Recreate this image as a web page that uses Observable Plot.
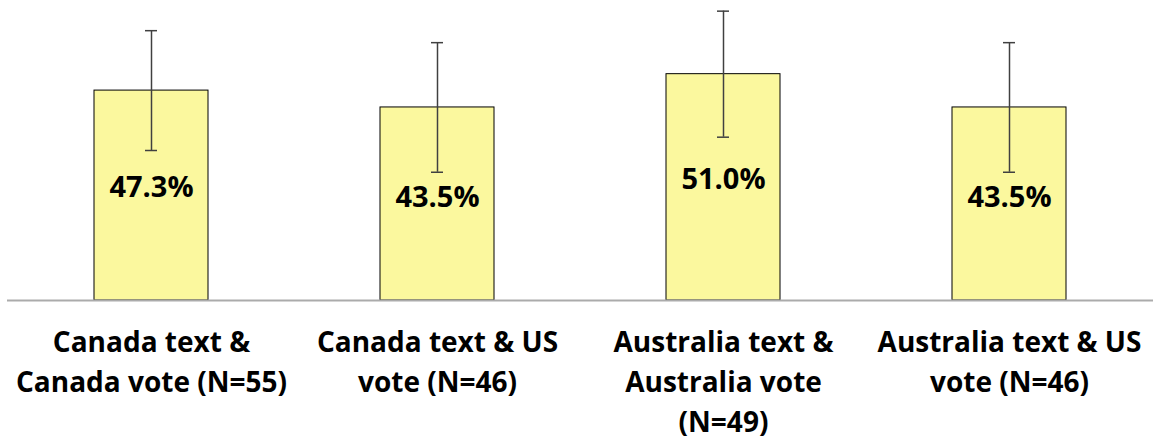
<!DOCTYPE html>
<html>
<head>
<meta charset="utf-8">
<script src="https://cdn.jsdelivr.net/npm/d3@7"></script>
<script src="https://cdn.jsdelivr.net/npm/@observablehq/plot@0.6"></script>
<style>
  html, body { margin: 0; padding: 0; background: #fff; }
  #chart svg { display: block; }
</style>
</head>
<body>
<div id="chart"></div>
<script>
const categories = [
  "Canada text &\nCanada vote (N=55)",
  "Canada text & US\nvote (N=46)",
  "Australia text &\nAustralia vote\n(N=49)",
  "Australia text & US\nvote (N=46)"
];
const values = [47.3, 43.5, 51.0, 43.5];
const errors = [13.5, 14.6, 14.2, 14.6];

const data = categories.map((c, i) => ({
  cat: c,
  value: values[i],
  lo: values[i] - errors[i],
  hi: values[i] + errors[i],
  labelY: values[i] * 0.535,
  label: values[i].toFixed(1) + "%"
}));

const font = "'Open Sans', 'DejaVu Sans', sans-serif";

const chart = Plot.plot({
  width: 1153,
  height: 446,
  marginTop: 0,
  marginBottom: 146,
  marginLeft: 7,
  marginRight: 0,
  style: { fontFamily: font, background: "#fff" },
  x: { domain: categories, paddingInner: 0.6, paddingOuter: 0.3, label: null },
  y: { domain: [0, 67.6], axis: null },
  marks: [
    Plot.barY(data, { x: "cat", y: "value", fill: "#fbf89e", stroke: "#000", strokeWidth: 1 }),
    Plot.ruleX(data, { x: "cat", y1: "lo", y2: "hi", stroke: "#404040", strokeWidth: 1.5 }),
    Plot.tickY(data, { x: "cat", y: "lo", stroke: "#404040", strokeWidth: 1.5, insetLeft: 51, insetRight: 51 }),
    Plot.tickY(data, { x: "cat", y: "hi", stroke: "#404040", strokeWidth: 1.5, insetLeft: 51, insetRight: 51 }),
    Plot.text(data, { x: "cat", y: "labelY", text: "label", fontSize: 29, fontWeight: "bold", fill: "#000" }),
    Plot.ruleY([0], { stroke: "#ababab", strokeWidth: 2 }),
    Plot.axisX({
      tickSize: 0,
      tickPadding: 23,
      fontSize: 28,
      fontWeight: "bold",
      lineHeight: 1.43,
      lineAnchor: "top",
      fill: "#000",
      label: null
    })
  ]
});
document.getElementById("chart").appendChild(chart);
</script>
</body>
</html>
